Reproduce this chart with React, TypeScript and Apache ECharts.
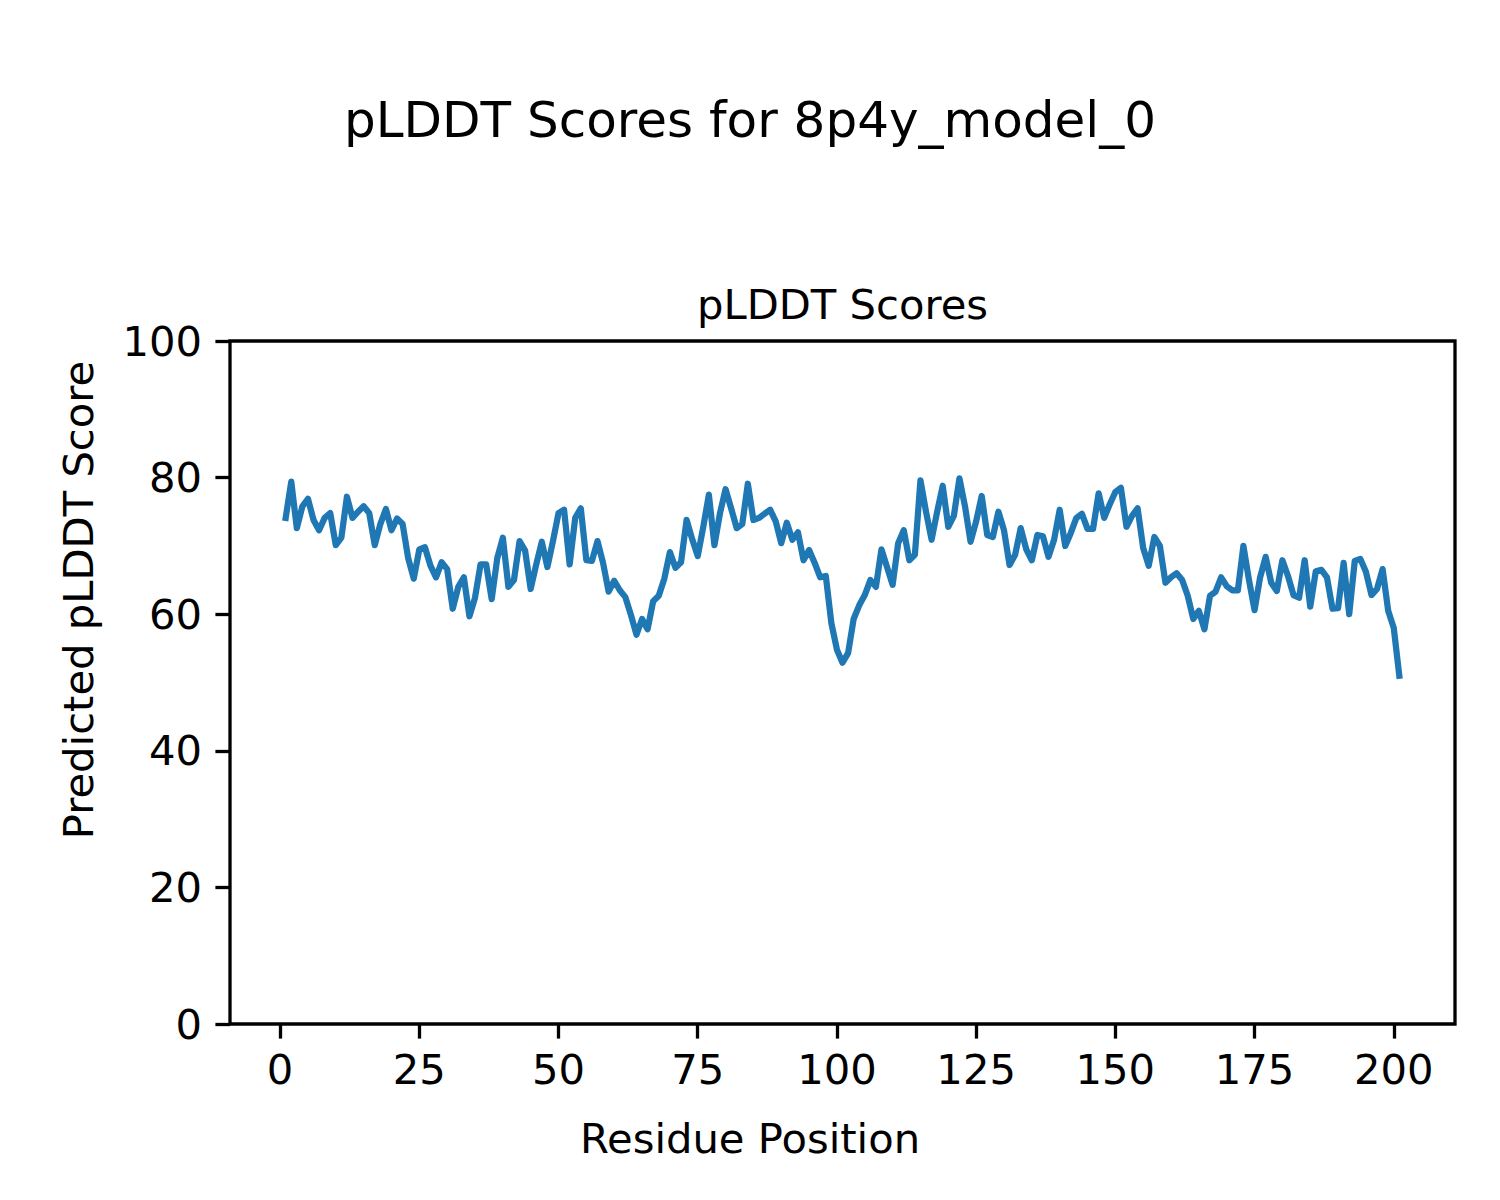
import React, { useEffect, useRef } from "react";
import * as echarts from "echarts";

const suptitle = "pLDDT Scores for 8p4y_model_0";
const axesTitle = "pLDDT Scores";
const xLabel = "Residue Position";
const yLabel = "Predicted pLDDT Score";

const xTicks = [0, 25, 50, 75, 100, 125, 150, 175, 200];
const yTicks = [0, 20, 40, 60, 80, 100];

const scores = [
  74.1, 79.4, 72.6, 75.8, 76.9, 73.8, 72.3, 74.1, 74.8, 70.1,
  71.2, 77.2, 74.1, 75.0, 75.8, 74.8, 70.1, 73.2, 75.4, 72.3,
  74.0, 73.2, 68.2, 65.2, 69.5, 69.8, 67.1, 65.4, 67.6, 66.6,
  60.8, 64.0, 65.4, 59.7, 62.4, 67.3, 67.3, 62.2, 68.2, 71.2,
  64.0, 65.0, 70.7, 69.3, 63.7, 67.3, 70.6, 66.9, 70.7, 74.8,
  75.3, 67.3, 74.1, 75.5, 67.9, 67.8, 70.7, 67.5, 63.3, 64.9,
  63.5, 62.5, 59.9, 57.0, 59.3, 57.8, 61.9, 62.7, 65.2, 69.1,
  66.8, 67.6, 73.8, 71.0, 68.5, 72.8, 77.5, 70.1, 74.8, 78.3,
  75.5, 72.6, 73.2, 79.1, 73.8, 74.1, 74.7, 75.3, 73.6, 70.4,
  73.4, 70.9, 72.0, 67.9, 69.4, 67.5, 65.4, 65.6, 58.7, 54.8,
  52.9, 54.3, 59.3, 61.3, 62.8, 65.0, 64.0, 69.5, 66.9, 64.3,
  70.4, 72.3, 67.9, 68.7, 79.6, 75.0, 70.9, 75.0, 78.8, 72.8,
  74.4, 79.9, 75.8, 70.6, 73.6, 77.3, 71.6, 71.3, 75.0, 72.3,
  67.2, 68.7, 72.6, 69.5, 67.9, 71.6, 71.4, 68.4, 70.9, 75.3,
  70.0, 71.9, 74.1, 74.7, 72.5, 72.5, 77.7, 74.1, 76.1, 77.9,
  78.5, 72.8, 74.4, 75.5, 69.7, 67.1, 71.3, 70.0, 64.6, 65.4,
  66.0, 65.0, 62.7, 59.3, 60.5, 57.8, 62.7, 63.3, 65.4, 64.1,
  63.5, 63.5, 70.0, 65.0, 60.6, 65.4, 68.4, 64.6, 63.4, 67.9,
  65.6, 62.8, 62.4, 67.9, 61.1, 66.3, 66.5, 65.4, 60.8, 60.9,
  67.5, 60.0, 67.8, 68.1, 66.2, 62.8, 63.7, 66.6, 60.5, 58.0,
  51.0,
];
const positions = scores.map((_, i) => i + 1);

const FONT = '"DejaVu Sans", sans-serif';

export default function App() {
  const ref = useRef<HTMLDivElement>(null);
  useEffect(() => {
    if (!ref.current) return;
    const chart = echarts.init(ref.current, undefined, { renderer: "svg" });
    const data = positions.map((p, i) => [p, scores[i]]);
    chart.setOption({
      animation: false,
      backgroundColor: "#ffffff",
      textStyle: { fontFamily: FONT },
      grid: {
        left: 230,
        top: 341,
        width: 1225,
        height: 683,
        show: true,
        borderColor: "#000",
        borderWidth: 3.3,
        backgroundColor: "transparent",
        containLabel: false,
      },
      xAxis: {
        type: "value",
        min: -9,
        max: 211,
        axisLine: { show: false, onZero: false },
        splitLine: { show: false },
        axisTick: {
          show: true,
          inside: false,
          length: 14.6,
          lineStyle: { color: "#000", width: 3.3 },
          customValues: xTicks,
        },
        axisLabel: {
          customValues: xTicks,
          margin: 24,
          color: "#000",
          fontSize: 41.7,
          fontFamily: FONT,
          showMinLabel: true,
          showMaxLabel: true,
        },
      },
      yAxis: {
        type: "value",
        min: 0,
        max: 100,
        interval: 20,
        axisLine: { show: false, onZero: false },
        splitLine: { show: false },
        axisTick: {
          show: true,
          inside: false,
          length: 14.6,
          lineStyle: { color: "#000", width: 3.3 },
        },
        axisLabel: {
          margin: 28,
          color: "#000",
          fontSize: 41.7,
          fontFamily: FONT,
          customValues: yTicks,
        },
      },
      series: [
        {
          type: "line",
          data,
          showSymbol: false,
          symbol: "none",
          lineStyle: { color: "#1f77b4", width: 6.25, join: "round", cap: "square" },
          z: 3,
        },
      ],
      graphic: [
        {
          type: "text",
          x: 750,
          y: 120,
          style: {
            text: suptitle,
            fontSize: 50,
            fontFamily: FONT,
            fill: "#000",
            align: "center",
            verticalAlign: "middle",
          },
        },
        {
          type: "text",
          x: 842.5,
          y: 304,
          style: {
            text: axesTitle,
            fontSize: 41.7,
            fontFamily: FONT,
            fill: "#000",
            align: "center",
            verticalAlign: "middle",
          },
        },
        {
          type: "text",
          x: 750,
          y: 1138,
          style: {
            text: xLabel,
            fontSize: 41.7,
            fontFamily: FONT,
            fill: "#000",
            align: "center",
            verticalAlign: "middle",
          },
        },
        {
          type: "text",
          x: 78,
          y: 600,
          rotation: Math.PI / 2,
          style: {
            text: yLabel,
            fontSize: 41.7,
            fontFamily: FONT,
            fill: "#000",
            align: "center",
            verticalAlign: "middle",
          },
        },
      ],
    });
    return () => chart.dispose();
  }, []);
  return (
    <div
      ref={ref}
      style={{ position: "absolute", left: 0, top: 0, width: 1500, height: 1200 }}
    />
  );
}
